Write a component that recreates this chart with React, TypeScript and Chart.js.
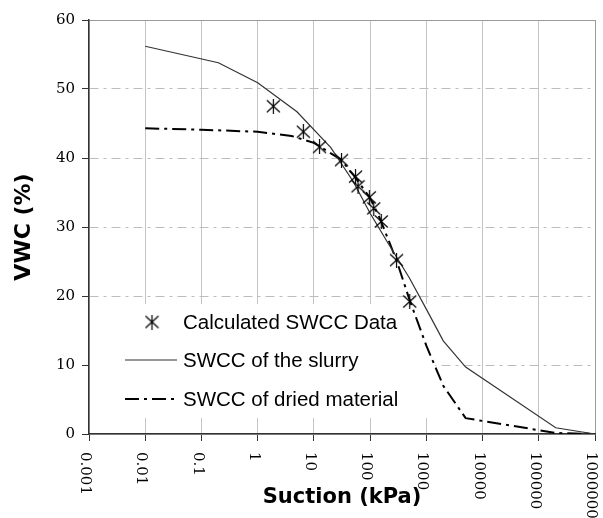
import React, { useEffect, useRef } from 'react';
import { Chart, registerables } from 'chart.js';

Chart.register(...registerables);

// Axis ticks
const suctionTicks = [0.001, 0.01, 0.1, 1, 10, 100, 1000, 10000, 100000, 1000000];
const suctionTickLabels = ['0.001', '0.01', '0.1', '1', '10', '100', '1000', '10000', '100000', '1000000'];
const vwcTicks = [0, 10, 20, 30, 40, 50, 60];

// Calculated SWCC points (suction in kPa, VWC in %)
const dataSuction = [1.9, 6.5, 12.6, 31, 55, 61, 97, 116, 158, 295, 507];
const dataVwc = [47.5, 43.8, 41.6, 39.7, 37.3, 35.9, 34.3, 32.7, 30.8, 25.2, 19.2];

// SWCC of the slurry
const slurrySuction = [0.01, 0.2, 1, 5, 20, 50, 100, 200, 500, 1000, 2000, 5000, 200000, 1000000];
const slurryVwc = [56.2, 53.8, 50.9, 46.7, 41.5, 36.6, 32.0, 27.9, 22.6, 18.1, 13.5, 9.7, 0.9, 0];

// SWCC of dried material
const driedSuction = [0.01, 0.1, 1, 4, 10, 30, 50, 100, 150, 300, 500, 1000, 2000, 5000, 200000, 1000000];
const driedVwc = [44.3, 44.1, 43.8, 43.2, 42.2, 39.8, 37.6, 34.2, 31.2, 25.0, 19.5, 12.8, 7.0, 2.3, 0.15, 0];

const legendLabels = ['Calculated SWCC Data', 'SWCC of the slurry', 'SWCC of dried material'];

const DRIED_DASH = [14, 5, 3, 5];

function makeStarMarker(size: number): HTMLCanvasElement {
  const c = document.createElement('canvas');
  c.width = size;
  c.height = size;
  const g = c.getContext('2d')!;
  g.strokeStyle = '#000';
  g.lineWidth = 1.2;
  g.beginPath();
  g.moveTo(1, 1.5);
  g.lineTo(size - 1, size - 1.5);
  g.moveTo(size - 1, 1.5);
  g.lineTo(1, size - 1.5);
  g.moveTo(size / 2, 0);
  g.lineTo(size / 2, size);
  g.stroke();
  return c;
}

const toXY = (xs: number[], ys: number[]) => xs.map((x, i) => ({ x, y: ys[i] }));

export default function App() {
  const canvasRef = useRef<HTMLCanvasElement | null>(null);

  useEffect(() => {
    const canvas = canvasRef.current;
    if (!canvas) return;
    const star = makeStarMarker(15);

    // vertical tick labels on the suction axis, reading top to bottom
    const suctionLabelsPlugin = {
      id: 'suctionLabels',
      afterDraw(chart: any) {
        const { ctx } = chart;
        const xs = chart.scales.x;
        const top = chart.chartArea.bottom + 18;
        ctx.save();
        ctx.font = '15px "DejaVu Serif"';
        ctx.fillStyle = '#000';
        ctx.textAlign = 'left';
        ctx.textBaseline = 'middle';
        suctionTicks.forEach((v, i) => {
          const x = xs.getPixelForValue(v) - 4;
          ctx.save();
          ctx.translate(x, top);
          ctx.rotate(Math.PI / 2);
          ctx.fillText(suctionTickLabels[i], 0, 0);
          ctx.restore();
        });
        ctx.restore();
      },
    };

    // legend placed inside the plot, lower left
    const innerLegendPlugin = {
      id: 'innerLegend',
      beforeDatasetsDraw(chart: any) {
        const { ctx, chartArea } = chart;
        ctx.save();
        ctx.fillStyle = '#fff';
        ctx.fillRect(chartArea.left + 1, 304, 434 - chartArea.left, 114);
        ctx.restore();
      },
      afterDatasetsDraw(chart: any) {
        const { ctx } = chart;
        const rows = [322, 360, 399];
        const sx0 = 125;
        const sx1 = 177;
        const tx = 183;
        ctx.save();
        ctx.font = '20.5px "Liberation Sans"';
        ctx.fillStyle = '#000';
        ctx.textAlign = 'left';
        ctx.textBaseline = 'middle';
        // marker sample
        ctx.drawImage(star, 152 - star.width / 2, rows[0] - star.height / 2);
        // solid line sample
        ctx.strokeStyle = '#333';
        ctx.lineWidth = 1.2;
        ctx.beginPath();
        ctx.moveTo(sx0, rows[1]);
        ctx.lineTo(sx1, rows[1]);
        ctx.stroke();
        // dash-dot sample
        ctx.strokeStyle = '#000';
        ctx.lineWidth = 2;
        ctx.setLineDash(DRIED_DASH);
        ctx.beginPath();
        ctx.moveTo(sx0, rows[2]);
        ctx.lineTo(sx1, rows[2]);
        ctx.stroke();
        ctx.setLineDash([]);
        legendLabels.forEach((t, i) => ctx.fillText(t, tx, rows[i] + 1));
        ctx.restore();
      },
    };

    const chart = new Chart(canvas, {
      type: 'line',
      data: {
        datasets: [
          {
            label: legendLabels[0],
            data: toXY(dataSuction, dataVwc),
            showLine: false,
            pointStyle: star as any,
            pointRadius: 7,
            borderColor: '#000',
            backgroundColor: '#000',
          },
          {
            label: legendLabels[1],
            data: toXY(slurrySuction, slurryVwc),
            borderColor: '#333',
            borderWidth: 1.2,
            pointRadius: 0,
            tension: 0,
            fill: false,
          },
          {
            label: legendLabels[2],
            data: toXY(driedSuction, driedVwc),
            borderColor: '#000',
            borderWidth: 2,
            borderDash: DRIED_DASH,
            pointRadius: 0,
            tension: 0,
            fill: false,
          },
        ],
      },
      options: {
        responsive: false,
        animation: false,
        events: [],
        layout: { padding: { left: 0, top: 20, right: 1, bottom: 0 } },
        plugins: {
          legend: { display: false },
          tooltip: { enabled: false },
        },
        scales: {
          x: {
            type: 'logarithmic',
            min: 0.001,
            max: 1000000,
            afterBuildTicks: (scale: any) => {
              scale.ticks = suctionTicks.map((v) => ({ value: v }));
            },
            afterFit: (scale: any) => {
              scale.height = 84;
            },
            ticks: { display: false },
            grid: {
              color: (c: any) => (c.tick && c.tick.value === 1000000 ? '#9a9a9a' : '#c4c4c4'),
              lineWidth: 1,
              tickColor: '#333',
              tickLength: 7,
            },
            border: { color: '#333', width: 1.5 },
            title: {
              display: true,
              text: 'Suction (kPa)',
              color: '#000',
              font: { family: 'DejaVu Sans', size: 21, weight: 'bold' },
              padding: { top: 0, bottom: 8 },
            },
          },
          y: {
            type: 'linear',
            min: 0,
            max: 60,
            afterBuildTicks: (scale: any) => {
              scale.ticks = vwcTicks.map((v) => ({ value: v }));
            },
            afterFit: (scale: any) => {
              scale.width = 89;
            },
            ticks: {
              color: '#000',
              font: { family: 'DejaVu Serif', size: 15 },
              padding: 7,
            },
            grid: {
              color: (c: any) => (c.tick && c.tick.value === 60 ? '#9a9a9a' : '#bdbdbd'),
              lineWidth: 1,
              tickColor: '#333',
              tickLength: 7,
            },
            border: {
              color: '#333',
              width: 1.5,
              dash: (c: any) =>
                c.tick && c.tick.value !== 60 && c.tick.value !== 0 ? [9, 5, 3, 5] : [],
            },
            title: {
              display: true,
              text: 'VWC (%)',
              color: '#000',
              font: { family: 'DejaVu Sans', size: 22, weight: 'bold' },
              padding: { top: 11, bottom: 0 },
            },
          },
        },
      } as any,
      plugins: [suctionLabelsPlugin, innerLegendPlugin],
    });

    return () => chart.destroy();
  }, []);

  return (
    <div style={{ position: 'absolute', left: 0, top: 0, width: 603, height: 518, background: '#fff' }}>
      <canvas ref={canvasRef} width={603} height={518} style={{ width: 603, height: 518, display: 'block' }} />
    </div>
  );
}
